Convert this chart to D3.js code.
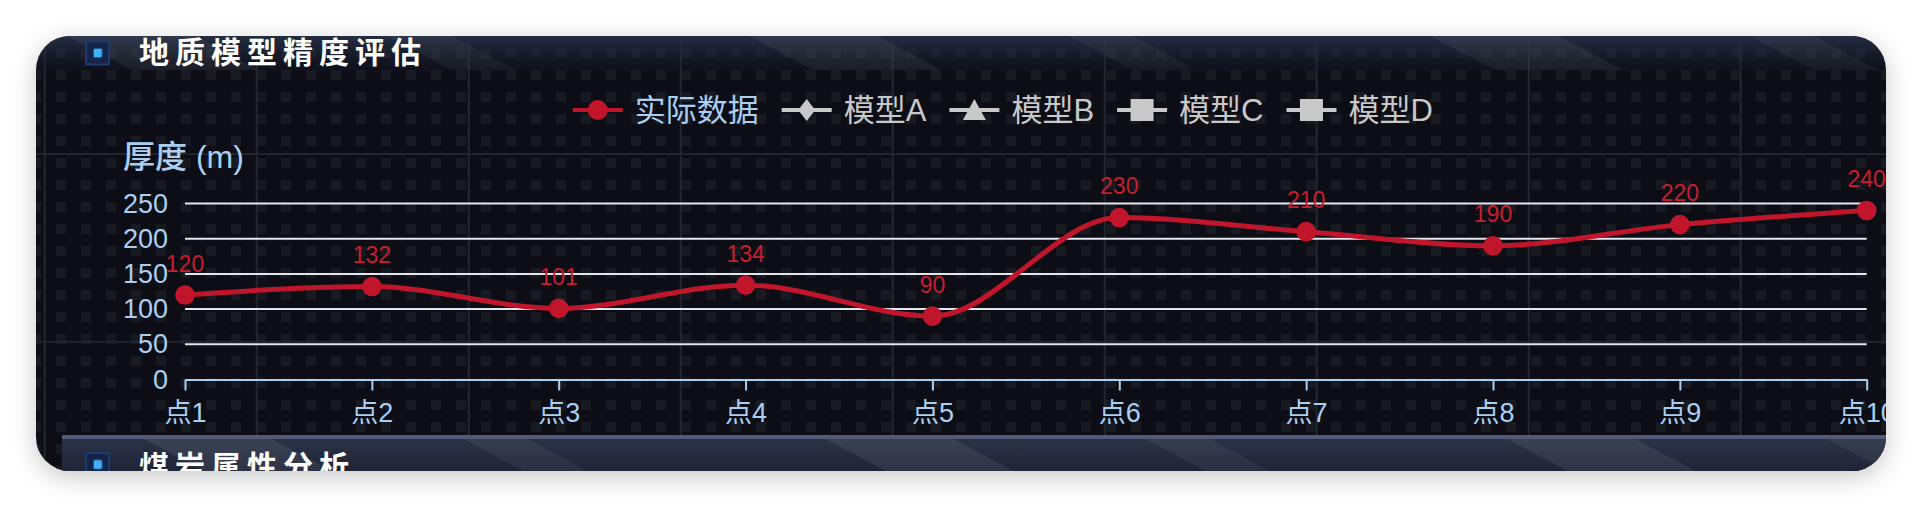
<!DOCTYPE html>
<html>
<head>
<meta charset="utf-8">
<script src="https://cdn.jsdelivr.net/npm/d3@7"></script>
<style>
  html, body { margin: 0; padding: 0; background: #fff; overflow: hidden; }
  svg { display: block; }
</style>
</head>
<body>
<svg id="chart"></svg>
<script>
// ---- data ----
const categories = ["点1", "点2", "点3", "点4", "点5", "点6", "点7", "点8", "点9", "点10"];
const actualData = [120, 132, 101, 134, 90, 230, 210, 190, 220, 240];
const legendNames = ["实际数据", "模型A", "模型B", "模型C", "模型D"];
const legendSymbols = ["circle", "diamond", "triangle", "square", "square"];
const yTicks = [0, 50, 100, 150, 200, 250];
const panelTitle = "地质模型精度评估";
const nextTitle = "煤岩属性分析";
const yName = "厚度 (m)";

const width = 1922, height = 508;
const card = { x: 36, y: 36, w: 1850, h: 435, r: 34 };
const plot = { left: 185, right: 1866.7, top: 203.5, bottom: 379.5 };
const fontAll = "'Liberation Sans', 'Noto Sans CJK SC', sans-serif";
const red = "#c0152a";
const lightBlue = "#a9cff3";
const inactive = "#c9c9c9";

const svg = d3.select("#chart")
  .attr("width", width)
  .attr("height", height)
  .attr("viewBox", [0, 0, width, height]);

const defs = svg.append("defs");

const shadow = defs.append("filter").attr("id", "shadow")
  .attr("x", "-5%").attr("y", "-20%").attr("width", "110%").attr("height", "140%");
shadow.append("feDropShadow")
  .attr("dx", 0).attr("dy", 6).attr("stdDeviation", 12)
  .attr("flood-color", "#000").attr("flood-opacity", 0.22);

defs.append("clipPath").attr("id", "cardClip")
  .append("rect")
  .attr("x", card.x).attr("y", card.y)
  .attr("width", card.w).attr("height", card.h)
  .attr("rx", card.r);

// little squares on the background
const dots = defs.append("pattern").attr("id", "dots")
  .attr("patternUnits", "userSpaceOnUse")
  .attr("x", 6).attr("y", 4)
  .attr("width", 25).attr("height", 22);
dots.append("rect").attr("width", 10).attr("height", 10).attr("fill", "#171a21");

// diagonal streaks used in the section headers
const stripes = defs.append("pattern").attr("id", "stripes")
  .attr("patternUnits", "userSpaceOnUse")
  .attr("width", 320).attr("height", 320)
  .attr("patternTransform", "rotate(-62)");
stripes.append("rect").attr("width", 60).attr("height", 320).attr("fill", "#ffffff").attr("opacity", 0.07);
stripes.append("rect").attr("x", 150).attr("width", 30).attr("height", 320).attr("fill", "#ffffff").attr("opacity", 0.05);

const headGrad = defs.append("linearGradient").attr("id", "headGrad")
  .attr("x1", 0).attr("y1", 0).attr("x2", 0).attr("y2", 1);
headGrad.append("stop").attr("offset", "0%").attr("stop-color", "#263044").attr("stop-opacity", 0.95);
headGrad.append("stop").attr("offset", "100%").attr("stop-color", "#1a2030").attr("stop-opacity", 0);

const secGrad = defs.append("linearGradient").attr("id", "secGrad")
  .attr("x1", 0).attr("y1", 0).attr("x2", 0).attr("y2", 1);
secGrad.append("stop").attr("offset", "0%").attr("stop-color", "#2c344a");
secGrad.append("stop").attr("offset", "100%").attr("stop-color", "#1d2333");

const glow = defs.append("filter").attr("id", "glow");
glow.append("feGaussianBlur").attr("stdDeviation", 1.5).attr("result", "b");
const gm = glow.append("feMerge");
gm.append("feMergeNode").attr("in", "b");
gm.append("feMergeNode").attr("in", "SourceGraphic");

// ---- card ----
svg.append("rect")
  .attr("x", card.x).attr("y", card.y)
  .attr("width", card.w).attr("height", card.h)
  .attr("rx", card.r)
  .attr("fill", "#0f1117")
  .attr("filter", "url(#shadow)");

const body = svg.append("g").attr("clip-path", "url(#cardClip)");

body.append("rect")
  .attr("x", card.x).attr("y", card.y)
  .attr("width", card.w).attr("height", card.h)
  .attr("fill", "url(#dots)");

// faint background grid lines
body.append("g")
  .selectAll("line")
  .data(d3.range(44.7, card.x + card.w, 212))
  .join("line")
    .attr("x1", d => d).attr("x2", d => d)
    .attr("y1", card.y).attr("y2", card.y + card.h)
    .attr("stroke", "#23272f").attr("stroke-width", 2);
body.append("g")
  .selectAll("line")
  .data([154, 341.7])
  .join("line")
    .attr("x1", card.x).attr("x2", card.x + card.w)
    .attr("y1", d => d).attr("y2", d => d)
    .attr("stroke", "#21252d").attr("stroke-width", 2);

// top header band
body.append("rect")
  .attr("x", card.x).attr("y", card.y)
  .attr("width", card.w).attr("height", 40)
  .attr("fill", "url(#headGrad)");
body.append("rect")
  .attr("x", card.x).attr("y", card.y)
  .attr("width", card.w).attr("height", 34)
  .attr("fill", "url(#stripes)")
  .attr("opacity", 0.8);

function drawIcon(g, x, y) {
  g.append("rect")
    .attr("x", x).attr("y", y).attr("width", 23).attr("height", 23)
    .attr("fill", "#15254a").attr("stroke", "#1f3a70").attr("stroke-width", 2);
  g.append("rect")
    .attr("x", x + 8).attr("y", y + 7.5).attr("width", 7.5).attr("height", 8)
    .attr("fill", "#3fb0ff").attr("filter", "url(#glow)");
}

drawIcon(body, 86, 41.5);
body.append("text")
  .attr("x", 139).attr("y", 63)
  .attr("font-family", fontAll)
  .attr("font-size", 30)
  .attr("font-weight", "bold")
  .attr("letter-spacing", 6)
  .attr("fill", "#ffffff")
  .text(panelTitle);

// next section peeking at the bottom
const sec = body.append("g");
sec.append("rect")
  .attr("x", 62).attr("y", 435)
  .attr("width", card.x + card.w - 62).attr("height", 40)
  .attr("fill", "url(#secGrad)");
sec.append("rect")
  .attr("x", 62).attr("y", 435)
  .attr("width", card.x + card.w - 62).attr("height", 40)
  .attr("fill", "url(#stripes)");
sec.append("rect")
  .attr("x", 62).attr("y", 435)
  .attr("width", card.x + card.w - 62).attr("height", 4)
  .attr("fill", "#4f5a76");
drawIcon(sec, 86, 453);
sec.append("text")
  .attr("x", 139).attr("y", 477)
  .attr("font-family", fontAll)
  .attr("font-size", 30)
  .attr("font-weight", "bold")
  .attr("letter-spacing", 6)
  .attr("fill", "#ffffff")
  .text(nextTitle);

// ---- scales ----
const x = d3.scalePoint()
  .domain(categories)
  .range([plot.left, plot.right]);

const y = d3.scaleLinear()
  .domain([0, 250])
  .range([plot.bottom, plot.top]);

// ---- grid + axes ----
body.append("g")
  .selectAll("line")
  .data(yTicks.filter(d => d > 0))
  .join("line")
    .attr("x1", plot.left).attr("x2", plot.right)
    .attr("y1", d => y(d)).attr("y2", d => y(d))
    .attr("stroke", "#e4e6ef").attr("stroke-width", 2);

const yAxis = body.append("g")
  .attr("transform", `translate(${plot.left},0)`)
  .call(d3.axisLeft(y).tickValues(yTicks).tickSize(0).tickPadding(17));
yAxis.select(".domain").remove();
yAxis.selectAll("text")
  .attr("font-family", fontAll)
  .attr("font-size", 27)
  .attr("fill", lightBlue);

const xAxis = body.append("g")
  .attr("transform", `translate(0,${plot.bottom})`)
  .call(d3.axisBottom(x).tickSizeInner(11).tickSizeOuter(0).tickPadding(12));
xAxis.select(".domain").attr("stroke", lightBlue).attr("stroke-width", 2);
xAxis.selectAll(".tick line").attr("stroke", lightBlue).attr("stroke-width", 2);
xAxis.selectAll("text")
  .attr("font-family", fontAll)
  .attr("font-size", 27)
  .attr("fill", lightBlue)
  .attr("dy", "0.71em");

body.append("text")
  .attr("x", 123).attr("y", 168)
  .attr("font-family", fontAll)
  .attr("font-size", 32)
  .attr("font-weight", 500)
  .attr("fill", lightBlue)
  .text(yName);

// ---- series ----
// monotone keeps the peaks flat like the original smooth line
const line = d3.line()
  .x((d, i) => x(categories[i]))
  .y(d => y(d))
  .curve(d3.curveMonotoneX);

body.append("path")
  .datum(actualData)
  .attr("d", line)
  .attr("fill", "none")
  .attr("stroke", red)
  .attr("stroke-width", 5);

body.append("g")
  .selectAll("circle")
  .data(actualData)
  .join("circle")
    .attr("cx", (d, i) => x(categories[i]))
    .attr("cy", d => y(d))
    .attr("r", 9.8)
    .attr("fill", red);

body.append("g")
  .selectAll("text")
  .data(actualData)
  .join("text")
    .attr("x", (d, i) => x(categories[i]))
    .attr("y", d => y(d) - 23.5)
    .attr("text-anchor", "middle")
    .attr("font-family", fontAll)
    .attr("font-size", 23)
    .attr("fill", "#c81d2e")
    .text(d => d);

// ---- legend ----
const legend = body.append("g").attr("transform", "translate(572.7,110)");
let lx = 0;
legendNames.forEach((name, i) => {
  const on = i === 0;
  const col = on ? red : inactive;
  const item = legend.append("g").attr("transform", `translate(${lx},0)`);
  item.append("line")
    .attr("x1", 0).attr("x2", 50)
    .attr("stroke", col).attr("stroke-width", 4);
  const s = legendSymbols[i];
  if (s === "circle") {
    item.append("circle").attr("cx", 25).attr("r", 10).attr("fill", col);
  } else if (s === "diamond") {
    item.append("path").attr("d", "M25,-11L33.5,0L25,11L16.5,0Z").attr("fill", col);
  } else if (s === "triangle") {
    item.append("path").attr("d", "M25,-11L36.5,10L13.5,10Z").attr("fill", col);
  } else {
    item.append("rect").attr("x", 13.5).attr("y", -11).attr("width", 23).attr("height", 22).attr("fill", col);
  }
  const t = item.append("text")
    .attr("x", 62).attr("dy", "0.36em")
    .attr("font-family", fontAll)
    .attr("font-size", 31)
    .attr("fill", on ? lightBlue : inactive)
    .text(name);
  lx += 62 + t.node().getComputedTextLength() + 23;
});
</script>
</body>
</html>
